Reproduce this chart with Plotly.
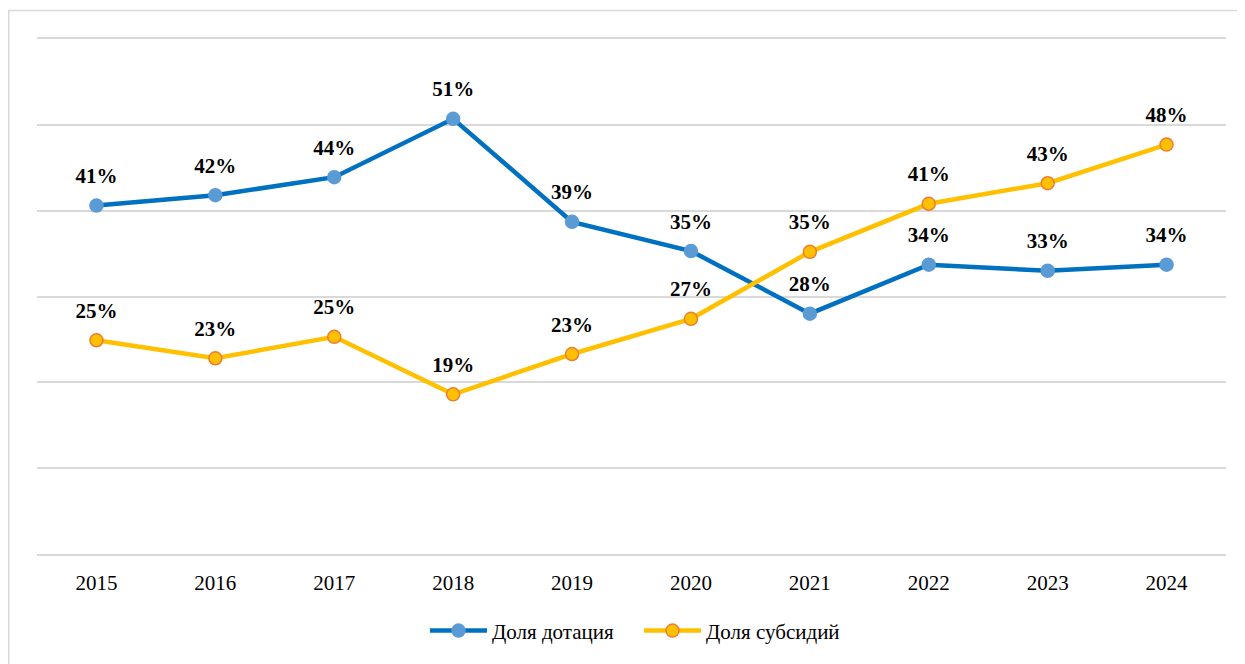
import plotly.graph_objects as go

years = ["2015", "2016", "2017", "2018", "2019", "2020", "2021", "2022", "2023", "2024"]
dotation_share = [0.406, 0.418, 0.439, 0.507, 0.387, 0.353, 0.280, 0.337, 0.330, 0.337]
subsidy_share = [0.249, 0.228, 0.253, 0.186, 0.233, 0.274, 0.352, 0.408, 0.432, 0.477]
series_names = ["Доля дотация", "Доля субсидий"]

W, H = 1237, 656
L, R, T, B = 29, 19, 31, 103
pw, ph = W - L - R, H - T - B

SERIF = "Liberation Serif, Times New Roman, serif"

fig = go.Figure()

styles = [
    dict(line="#0070C0", fill="#5B9BD5", edge="#5B9BD5"),
    dict(line="#FFC000", fill="#FFC000", edge="#ED7D31"),
]

for name, vals, st in zip(series_names, [dotation_share, subsidy_share], styles):
    fig.add_trace(go.Scatter(
        x=years, y=vals, name=name, mode="lines+markers",
        line=dict(color=st["line"], width=4.5),
        marker=dict(size=13, color=st["fill"], line=dict(color=st["edge"], width=1.5)),
        cliponaxis=False,
    ))

for vals in [dotation_share, subsidy_share]:
    fig.add_trace(go.Scatter(
        x=years, y=vals, mode="markers+text", showlegend=False,
        marker=dict(size=26, color="rgba(0,0,0,0)"),
        text=[f"{round(v*100)}%" for v in vals],
        textposition="top center",
        textfont=dict(family=SERIF, size=21, color="#000000", weight="bold"),
        hoverinfo="skip", cliponaxis=False,
    ))

# outer chart border
fig.add_shape(type="rect", xref="paper", yref="paper",
              x0=(0.75 - L) / pw, x1=(1270 - L) / pw,
              y0=(T + ph - 700) / ph, y1=1 + (T - 2) / ph,
              line=dict(color="#D9D9D9", width=1.5), fillcolor="rgba(0,0,0,0)", layer="below")

fig.update_layout(
    width=W, height=H,
    margin=dict(l=L, r=R, t=T, b=B),
    paper_bgcolor="white", plot_bgcolor="white",
    font=dict(family=SERIF, size=21, color="#000000"),
    showlegend=True,
    legend=dict(orientation="h", x=(417 - L) / pw, xanchor="left",
                y=(T + ph - 631) / ph, yanchor="middle",
                font=dict(family=SERIF, size=21, color="#000000"),
                itemwidth=57, entrywidth=142, traceorder="normal"),
    xaxis=dict(type="category", range=[-0.5, 9.5], showgrid=False, zeroline=False,
               showline=True, mirror=True, linecolor="#D9D9D9", linewidth=1.5,
               ticks="", ticklabelstandoff=9,
               tickfont=dict(family=SERIF, size=21, color="#000000")),
    yaxis=dict(range=[0, 0.6], dtick=0.1, showticklabels=False, zeroline=False,
               showgrid=True, gridcolor="#D9D9D9", gridwidth=1.5, showline=False),
)

fig.write_html("out.html")
